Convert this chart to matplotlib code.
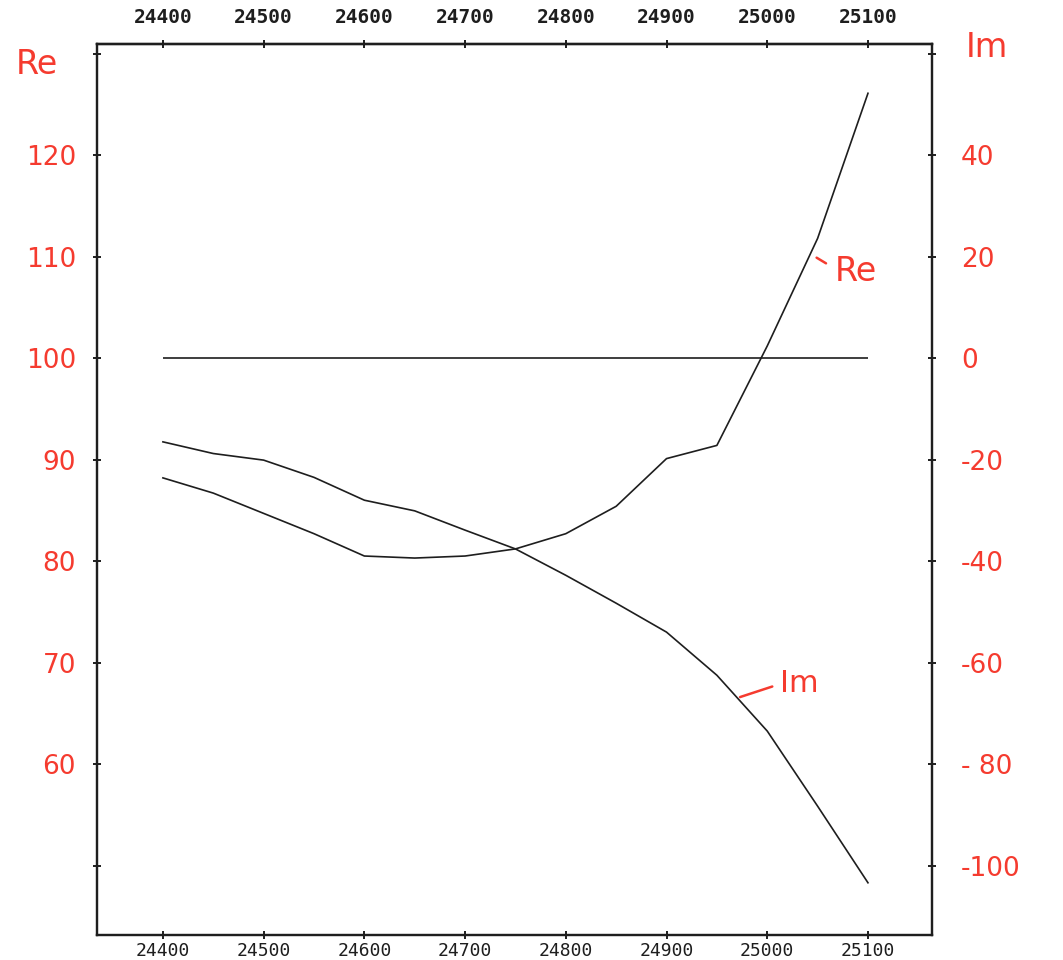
import matplotlib.pyplot as plt
import numpy as np

# wavenumber grid (x), real part (left axis) and imaginary part (right axis)
wavenumber = [24400, 24450, 24500, 24550, 24600, 24650, 24700, 24750,
              24800, 24850, 24900, 24950, 25000, 25050, 25100]
re_vals = [88.2, 86.7, 84.7, 82.7, 80.5, 80.3, 80.5, 81.2,
           82.7, 85.4, 90.1, 91.4, 101.2, 111.8, 126.1]
im_vals = [-16.5, -18.8, -20.1, -23.5, -28.0, -30.1, -33.9, -37.6,
           -42.8, -48.3, -54.0, -62.5, -73.5, -88.3, -103.4]
zero_level = 0

x_ticks = [24400, 24500, 24600, 24700, 24800, 24900, 25000, 25100]
re_ticks = [50, 60, 70, 80, 90, 100, 110, 120, 130]
re_labels = ["", "60", "70", "80", "90", "100", "110", "120", ""]
im_ticks = [-100, -80, -60, -40, -20, 0, 20, 40, 60]
im_labels = ["-100", "- 80", "-60", "-40", "-20", "0", "20", "40", ""]

RED = "#f53b2f"
INK = "#1e1e1e"

plt.rcParams["font.family"] = ["DejaVu Sans"]

fig = plt.figure(figsize=(10.63, 9.6), dpi=100)
ax = fig.add_axes([0.0912, 0.026, 0.7855, 0.928])
ax2 = ax.twinx()

ax.set_xlim(24334.5, 25163.5)
ax.set_ylim(43.15, 130.94)
ax2.set_ylim(2 * (43.15 - 100), 2 * (130.94 - 100))

ax.plot(wavenumber, re_vals, color=INK, linewidth=1.2)
ax2.plot(wavenumber, im_vals, color=INK, linewidth=1.2)
ax2.hlines(zero_level, wavenumber[0], wavenumber[-1], color=INK, linewidth=1.2)

for a in (ax, ax2):
    for sp in a.spines.values():
        sp.set_linewidth(1.6)
        sp.set_color(INK)

# bottom x axis
ax.set_xticks(x_ticks)
ax.set_xticklabels([str(v) for v in x_ticks], fontfamily="DejaVu Sans Mono")
ax.tick_params(axis="x", bottom=True, top=False, direction="inout", length=6,
               width=1.4, labelsize=13, pad=2, colors=INK)

# top x axis, labels sit further from the frame
top = ax.secondary_xaxis("top")
top.set_xticks(x_ticks)
top.set_xticklabels([str(v) for v in x_ticks], fontfamily="DejaVu Sans Mono",
                    fontweight="bold")
top.tick_params(axis="x", direction="inout", length=6, width=1.4,
                labelsize=14, pad=9, colors=INK)
top.spines["top"].set_linewidth(1.6)

ax.set_yticks(re_ticks)
ax.set_yticklabels(re_labels)
ax.tick_params(axis="y", left=True, right=False, direction="inout", length=6,
               width=1.4, labelsize=19, labelcolor=RED, color=INK, pad=12)

ax2.set_yticks(im_ticks)
ax2.set_yticklabels(im_labels)
ax2.tick_params(axis="y", right=True, left=False, direction="inout", length=6,
                width=1.4, labelsize=19, labelcolor=RED, color=INK, pad=18)

# axis names, handwritten in red on the original
fig.text(0.035, 0.933, "Re", color=RED, fontsize=24, ha="center", va="center")
fig.text(0.928, 0.951, "Im", color=RED, fontsize=24, ha="center", va="center")

ax.annotate("Re", xy=(25049, 109.9), xytext=(25067, 108.5),
            color=RED, fontsize=24, ha="left", va="center",
            arrowprops=dict(arrowstyle="-", color=RED, lw=1.8,
                            relpos=(0, 0.6), shrinkA=5, shrinkB=0))
ax2.annotate("Im", xy=(24973, -66.8), xytext=(25013, -64.2),
             color=RED, fontsize=22, ha="left", va="center",
             arrowprops=dict(arrowstyle="-", color=RED, lw=1.8,
                             relpos=(0, 0.5), shrinkA=4, shrinkB=0))

fig.savefig("out.png", dpi=100)
